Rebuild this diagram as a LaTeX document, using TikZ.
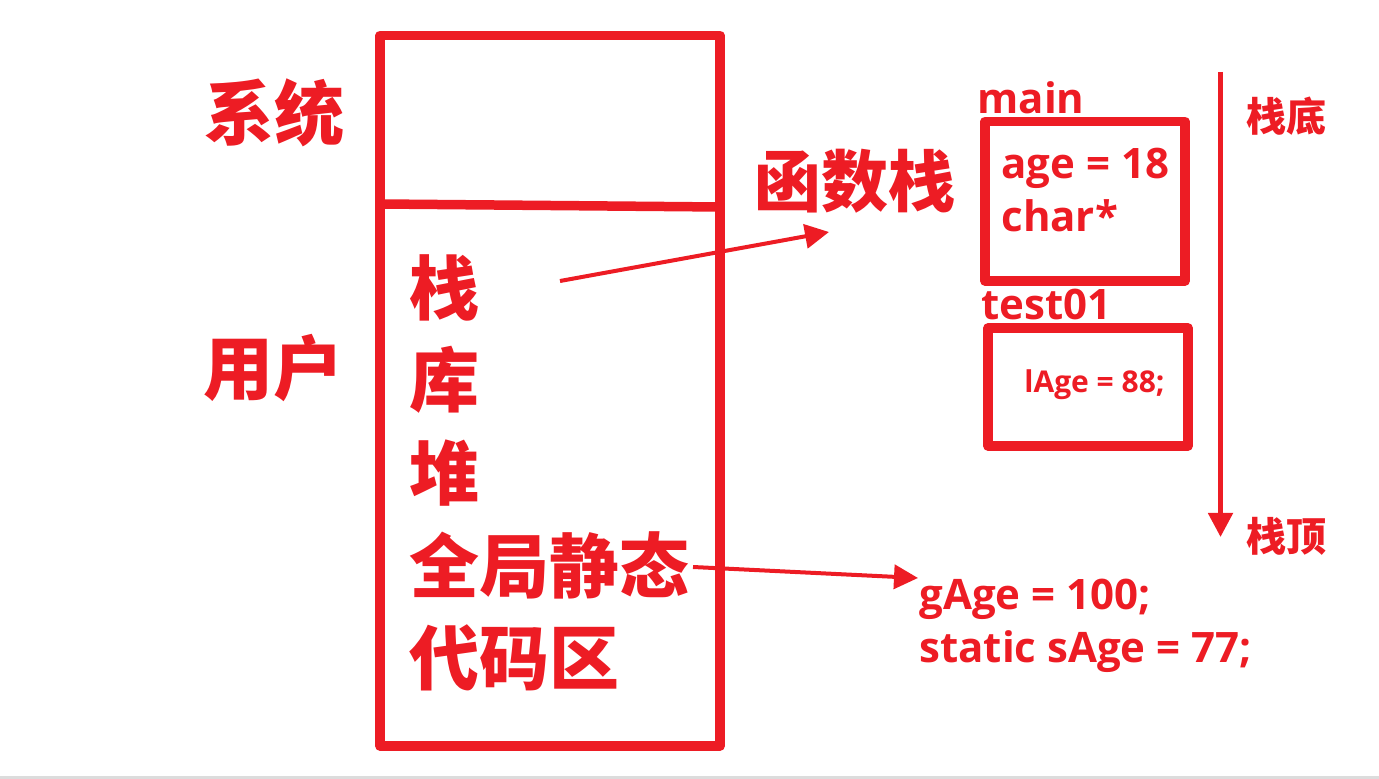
\documentclass[tikz,border=0pt]{standalone}
\usepackage{fontspec}
\usepackage{xcolor}
\usetikzlibrary{arrows.meta}
\setmainfont{Open Sans}
\newfontfamily\cjk{Noto Sans CJK SC}
\definecolor{memred}{HTML}{ED1C24}
\definecolor{bandgray}{HTML}{DCDCDC}

\begin{document}
\begin{tikzpicture}[x=0.5pt, y=-0.5pt,
    frame/.style={draw=memred, line width=4.75pt, line join=round},
    bigcjk/.style={text=memred, inner sep=0, font=\cjk\bfseries\fontsize{35pt}{35pt}\selectfont},
    smallcjk/.style={text=memred, inner sep=0, font=\cjk\bfseries\fontsize{20pt}{20pt}\selectfont},
    code/.style={text=memred, inner sep=0, anchor=base west, font=\bfseries\fontsize{21pt}{21pt}\selectfont},
    pointer/.style={draw=memred, line width=2pt, -{Triangle[length=12pt, width=12pt]}}]

    \useasboundingbox (0, 0) rectangle (1379, 779);
    \fill[bandgray] (0, 776) rectangle (1379, 779);

    % Memory layout
    \draw[frame] (380, 35.5) rectangle (720, 746);
    \draw[memred, line width=4.75pt] (380, 204) -- (720, 207);

    \node[bigcjk] (sys) at (274, 113) {系统};
    \node[bigcjk] (user) at (273, 368) {用户};

    \node[bigcjk, anchor=west] (stack) at (409, 288) {栈};
    \node[bigcjk, anchor=west] (lib) at (409, 380) {库};
    \node[bigcjk, anchor=west] (heap) at (409, 473) {堆};
    \node[bigcjk, anchor=west] (global) at (409, 565) {全局静态};
    \node[bigcjk, anchor=west] (codearea) at (409, 658) {代码区};

    % Function stack
    \node[bigcjk, font=\cjk\bfseries\fontsize{33.5pt}{33.5pt}\selectfont] (funcstack) at (855, 181) {函数栈};

    \node[frame, minimum width=100pt, minimum height=79.75pt] (mainframe) at (1085, 201.25) {};
    \node[code] (mainname) at (977, 114) {main};
    \node[code] (agevar) at (1001, 179) {age = 18};
    \node[code] (charvar) at (1001, 232) {char*};

    \node[frame, minimum width=100pt, minimum height=59pt] (testframe) at (1088, 387) {};
    \node[code] (testname) at (981, 320) {test01};
    \node[code, font=\bfseries\fontsize{15pt}{15pt}\selectfont] (lagevar) at (1024, 393) {lAge = 88;};

    \node[smallcjk] (bottom) at (1286, 116) {栈底};
    \node[smallcjk] (top) at (1286, 536) {栈顶};

    % Globals
    \node[code] (gagevar) at (919, 609) {gAge = 100;};
    \node[code] (sagevar) at (919, 662) {static sAge = 77;};

    % Arrows
    \coordinate (stackfrom) at (560, 281);
    \coordinate (stackto) at (829, 232);
    \coordinate (globalfrom) at (693, 567);
    \coordinate (globalto) at (918, 578);
    \coordinate (growfrom) at (1220.5, 72);
    \coordinate (growto) at (1220.5, 537);

    \draw[pointer] (stackfrom) -- (stackto);
    \draw[pointer] (globalfrom) -- (globalto);
    \draw[pointer, line width=2.5pt] (growfrom) -- (growto);

\end{tikzpicture}
\end{document}
